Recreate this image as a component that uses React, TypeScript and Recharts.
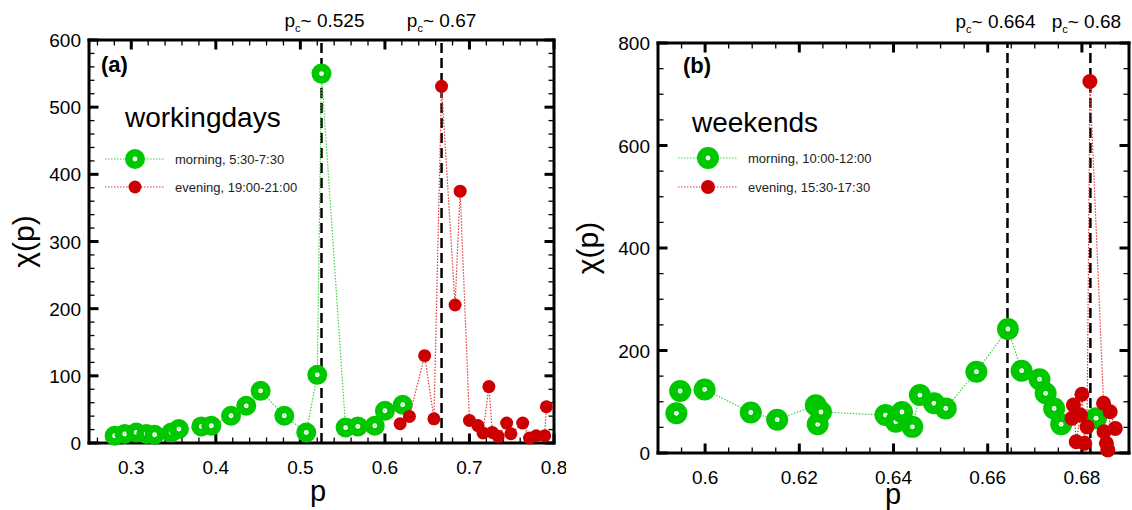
import React from 'react';
import { ScatterChart, Scatter, XAxis, YAxis, ReferenceLine, Legend } from 'recharts';

// ---------- data ----------
// (a) working days
const morningA_p = [0.2803, 0.2922, 0.3059, 0.3178, 0.3276, 0.3473, 0.3563, 0.3828, 0.3947, 0.418, 0.436, 0.453, 0.481, 0.507, 0.52, 0.525, 0.5535, 0.568, 0.588, 0.6, 0.621];
const morningA_chi = [10.8, 13.4, 15.7, 13.4, 12.3, 15.7, 20.8, 24.7, 25.7, 40.6, 55.4, 77.7, 40.6, 15.7, 101.5, 550, 23, 24.7, 25.7, 48, 57];
const eveningA_p = [0.618, 0.629, 0.647, 0.658, 0.667, 0.683, 0.689, 0.7, 0.71, 0.716, 0.723, 0.727, 0.734, 0.744, 0.749, 0.763, 0.771, 0.779, 0.789, 0.791];
const eveningA_chi = [28.7, 39.6, 130, 36, 531, 205.5, 375, 33.6, 26, 15, 84, 15.8, 10, 29.7, 13.8, 29.7, 7.4, 10.8, 10.8, 54];
// (b) weekends
const morningB_p = [0.5939, 0.5947, 0.5999, 0.6097, 0.6153, 0.6235, 0.6239, 0.6246, 0.6383, 0.6405, 0.6418, 0.644, 0.6456, 0.6486, 0.6511, 0.6576, 0.6643, 0.6672, 0.671, 0.6723, 0.6741, 0.6756, 0.683];
const morningB_chi = [77.5, 121, 124, 79, 65, 93, 56, 80, 74, 61, 80, 51, 113, 97, 87, 158.6, 242, 160.6, 144, 116.5, 87, 56, 68];
const eveningB_p = [0.6779, 0.6782, 0.6788, 0.6797, 0.68, 0.6806, 0.6811, 0.6817, 0.6846, 0.6847, 0.6852, 0.6855, 0.686, 0.6871];
const eveningB_chi = [67.7, 93.6, 22, 74, 114.5, 19, 51, 725, 97, 41.6, 19, 6, 80.6, 48];

// critical points
const pcA = [0.525, 0.667];
const pcA_labels = ['0.525', '0.67'];
const pcB = [0.6642, 0.6818];
const pcB_labels = ['0.664', '0.68'];

// axes
const xDomainA = [0.25, 0.8];
const yDomainA = [0, 600];
const xMajorA = [0.3, 0.4, 0.5, 0.6, 0.7, 0.8];
const yMajorA = [0, 100, 200, 300, 400, 500, 600];
const xDomainB = [0.59, 0.69];
const yDomainB = [0, 800];
const xMajorB = [0.6, 0.62, 0.64, 0.66, 0.68];
const yMajorB = [0, 200, 400, 600, 800];

const legendA = ['morning, 5:30-7:30', 'evening, 19:00-21:00'];
const legendB = ['morning, 10:00-12:00', 'evening, 15:30-17:30'];

// ---------- helpers ----------
const FONT = '"Liberation Sans", Arial, Helvetica, sans-serif';
const GREEN = '#00c800';
const RED = '#cc0000';
const GREEN_LINE = '#3fd43f';
const RED_LINE = '#e23a3a';

const zip = (ps: number[], cs: number[]) => ps.map((p, i) => ({ p, chi: cs[i] }));
const range = (start: number, end: number, step: number) => {
  const n = Math.round((end - start) / step);
  return Array.from({ length: n + 1 }, (_, i) => +(start + i * step).toFixed(6));
};

const morningA = zip(morningA_p, morningA_chi);
const eveningA = zip(eveningA_p, eveningA_chi);
const morningB = zip(morningB_p, morningB_chi);
const eveningB = zip(eveningB_p, eveningB_chi);

const bottomLabel = (props: any) => {
  const { x, y, payload } = props;
  return (
    <text x={x} y={Number(y) + 31} textAnchor="middle" fontSize={19} fontFamily={FONT} fill="#000">
      {String(payload.value)}
    </text>
  );
};
const leftLabel = (props: any) => {
  const { x, y, payload } = props;
  return (
    <text x={Number(x) - 8} y={Number(y) + 7} textAnchor="end" fontSize={19} fontFamily={FONT} fill="#000">
      {String(payload.value)}
    </text>
  );
};

const greenShape = (r: number) => (props: any) => {
  const { cx, cy } = props;
  if (cx == null || cy == null) return <g />;
  return (
    <g>
      <circle cx={cx} cy={cy} r={r} fill={GREEN} />
      <circle cx={cx} cy={cy} r={2.4} fill="#fff" />
      <circle cx={cx} cy={cy} r={0.7} fill="#9c9" />
    </g>
  );
};
const redShape = (r: number) => (props: any) => {
  const { cx, cy } = props;
  if (cx == null || cy == null) return <g />;
  return <circle cx={cx} cy={cy} r={r} fill={RED} />;
};

const pcLabel = (text: string, dx: number, baseY: number) => (props: any) => {
  const vb = props.viewBox || { x: 0 };
  return (
    <text x={vb.x + dx} y={baseY} textAnchor="middle" fontSize={19} fontFamily={FONT} fill="#000">
      <tspan>p</tspan>
      <tspan dy={5} fontSize={11}>c</tspan>
      <tspan dy={-5}>{'~ ' + text}</tspan>
    </text>
  );
};

const yTitle = (cx: number, cy: number) => () => (
  <text x={cx} y={cy} transform={`rotate(-90 ${cx} ${cy})`} textAnchor="middle" fontSize={30} fontFamily={FONT} fill="#000">
    χ(p)
  </text>
);
const xTitle = (cx: number, by: number) => () => (
  <text x={cx} y={by} textAnchor="middle" fontSize={29} fontFamily={FONT} fill="#000">
    p
  </text>
);

const LegendBox = (props: {
  tag: string; title: string; labels: string[];
  tagX: number; tagY: number; titleX: number; titleY: number;
  lx: number; ly1: number; ly2: number; gr: number; rr: number;
}) => {
  const { tag, title, labels, tagX, tagY, titleX, titleY, lx, ly1, ly2, gr, rr } = props;
  return (
    <svg width={566} height={210} style={{ display: 'block', overflow: 'visible' }} fontFamily={FONT}>
      <text x={tagX} y={tagY} fontSize={22} fontWeight="bold" fill="#000">{tag}</text>
      <text x={titleX} y={titleY} fontSize={28} fill="#000">{title}</text>
      <line x1={lx} x2={lx + 60} y1={ly1} y2={ly1} stroke={GREEN_LINE} strokeWidth={1.2} strokeDasharray="1.5 1.5" />
      <circle cx={lx + 30} cy={ly1} r={gr} fill={GREEN} />
      <circle cx={lx + 30} cy={ly1} r={2.4} fill="#fff" />
      <text x={lx + 70} y={ly1 + 5} fontSize={13} fill="#222">{labels[0]}</text>
      <line x1={lx} x2={lx + 60} y1={ly2} y2={ly2} stroke={RED_LINE} strokeWidth={1.2} strokeDasharray="1.5 1.5" />
      <circle cx={lx + 30} cy={ly2} r={rr} fill={RED} />
      <text x={lx + 70} y={ly2 + 5} fontSize={13} fill="#222">{labels[1]}</text>
    </svg>
  );
};

const MAJ = 9.5;
const MIN = 5.5;
const dotLine = (c: string) => ({ stroke: c, strokeWidth: 1.2, strokeDasharray: '1.5 1.5' });
const isMajor = (arr: number[], v: number) => arr.some((m) => Math.abs(m - v) < 1e-7);

// frame + inward ticks on all four sides, drawn as reference segments in data space
function frameAndTicks(xd: number[], yd: number[], xTicks: number[], yTicks: number[], xMajor: number[], yMajor: number[], plotW: number, plotH: number) {
  const kx = (xd[1] - xd[0]) / plotW;
  const ky = (yd[1] - yd[0]) / plotH;
  const els: any[] = [];
  const common = { xAxisId: 'b', yAxisId: 'l', ifOverflow: 'visible' as const, stroke: '#000' };
  xTicks.forEach((v, i) => {
    const maj = isMajor(xMajor, v);
    const L = maj ? MAJ : MIN;
    const sw = maj ? 3 : 1.3;
    els.push(<ReferenceLine key={`xb${i}`} {...common} strokeWidth={sw} segment={[{ x: v, y: yd[0] }, { x: v, y: yd[0] + L * ky }]} />);
    els.push(<ReferenceLine key={`xt${i}`} {...common} strokeWidth={sw} segment={[{ x: v, y: yd[1] }, { x: v, y: yd[1] - L * ky }]} />);
  });
  yTicks.forEach((v, i) => {
    const maj = isMajor(yMajor, v);
    const L = maj ? MAJ : MIN;
    const sw = maj ? 3 : 1.3;
    els.push(<ReferenceLine key={`yl${i}`} {...common} strokeWidth={sw} segment={[{ x: xd[0], y: v }, { x: xd[0] + L * kx, y: v }]} />);
    els.push(<ReferenceLine key={`yr${i}`} {...common} strokeWidth={sw} segment={[{ x: xd[1], y: v }, { x: xd[1] - L * kx, y: v }]} />);
  });
  const f = { ...common, strokeWidth: 3, strokeLinecap: 'square' as const };
  els.push(<ReferenceLine key="fb" {...f} segment={[{ x: xd[0], y: yd[0] }, { x: xd[1], y: yd[0] }]} />);
  els.push(<ReferenceLine key="ft" {...f} segment={[{ x: xd[0], y: yd[1] }, { x: xd[1], y: yd[1] }]} />);
  els.push(<ReferenceLine key="fl" {...f} segment={[{ x: xd[0], y: yd[0] }, { x: xd[0], y: yd[1] }]} />);
  els.push(<ReferenceLine key="fr" {...f} segment={[{ x: xd[1], y: yd[0] }, { x: xd[1], y: yd[1] }]} />);
  return els;
}

function axes(xDomain: number[], yDomain: number[], xMajor: number[], yMajor: number[], xT: any, yT: any, rightW: number) {
  return [
    <XAxis key="b" xAxisId="b" dataKey="p" type="number" domain={xDomain} ticks={xMajor} interval={0}
      height={40} axisLine={false} tickLine={false} tickSize={0} tickMargin={0}
      tick={bottomLabel} label={xT} />,
    <XAxis key="t" xAxisId="t" orientation="top" dataKey="p" type="number" domain={xDomain} ticks={xMajor}
      height={10} axisLine={false} tickLine={false} tick={false} />,
    <YAxis key="l" yAxisId="l" dataKey="chi" type="number" domain={yDomain} ticks={yMajor} interval={0}
      width={60} axisLine={false} tickLine={false} tickSize={0} tickMargin={0}
      tick={leftLabel} label={yT} />,
    <YAxis key="r" yAxisId="r" orientation="right" dataKey="chi" type="number" domain={yDomain} ticks={yMajor}
      width={rightW} axisLine={false} tickLine={false} tick={false} />,
  ];
}

function PanelA() {
  return (
    <ScatterChart width={566} height={510} margin={{ top: 30, right: 10, bottom: 27, left: 29 }}>
      {axes(xDomainA, yDomainA, xMajorA, yMajorA, xTitle(318, 501), yTitle(34, 241.5), 2)}
      <Legend layout="vertical" align="center" verticalAlign="middle"
        wrapperStyle={{ left: 0, top: 0, width: 566, height: 210, pointerEvents: 'none' }}
        content={() => (
          <LegendBox tag="(a)" title="workingdays" labels={legendA}
            tagX={101} tagY={72} titleX={125} titleY={127}
            lx={105} ly1={159} ly2={187} gr={10} rr={6.5} />
        )} />
      <ReferenceLine xAxisId="b" yAxisId="l" x={pcA[0]} stroke="#000" strokeWidth={2.5} strokeDasharray="10 5"
        label={pcLabel(pcA_labels[0], 3, 27)} />
      <ReferenceLine xAxisId="b" yAxisId="l" x={pcA[1]} stroke="#000" strokeWidth={2.5} strokeDasharray="10 5"
        label={pcLabel(pcA_labels[1], 0, 27)} />
      <Scatter name="morning" data={morningA} xAxisId="b" yAxisId="l" isAnimationActive={false}
        line={dotLine(GREEN_LINE)} lineType="joint" shape={greenShape(10)} />
      <Scatter name="evening" data={eveningA} xAxisId="b" yAxisId="l" isAnimationActive={false}
        line={dotLine(RED_LINE)} lineType="joint" shape={redShape(6.5)} />
      {frameAndTicks(xDomainA, yDomainA, range(0.26, 0.8, 0.02), range(0, 600, 20), xMajorA, yMajorA, 465, 403)}
    </ScatterChart>
  );
}

function PanelB() {
  return (
    <ScatterChart width={566} height={510} margin={{ top: 33, right: 1, bottom: 17, left: 32 }}>
      {axes(xDomainB, yDomainB, xMajorB, yMajorB, xTitle(327, 504), yTitle(32, 248), 2)}
      <Legend layout="vertical" align="center" verticalAlign="middle"
        wrapperStyle={{ left: 0, top: 0, width: 566, height: 210, pointerEvents: 'none' }}
        content={() => (
          <LegendBox tag="(b)" title="weekends" labels={legendB}
            tagX={117} tagY={73} titleX={126} titleY={132}
            lx={112} ly1={158} ly2={187} gr={11} rr={7} />
        )} />
      <ReferenceLine xAxisId="b" yAxisId="l" x={pcB[0]} stroke="#000" strokeWidth={2.5} strokeDasharray="10 5"
        label={pcLabel(pcB_labels[0], -12, 28)} />
      <ReferenceLine xAxisId="b" yAxisId="l" x={pcB[1]} stroke="#000" strokeWidth={2.5} strokeDasharray="10 5"
        label={pcLabel(pcB_labels[1], -4, 28)} />
      <Scatter name="morning" data={morningB} xAxisId="b" yAxisId="l" isAnimationActive={false}
        line={dotLine(GREEN_LINE)} lineType="joint" shape={greenShape(11)} />
      <Scatter name="evening" data={eveningB} xAxisId="b" yAxisId="l" isAnimationActive={false}
        line={dotLine(RED_LINE)} lineType="joint" shape={redShape(7.5)} />
      {frameAndTicks(xDomainB, yDomainB, range(0.59, 0.69, 0.005), range(0, 800, 50), xMajorB, yMajorB, 471, 410)}
    </ScatterChart>
  );
}

export default function App() {
  return (
    <div style={{ position: 'absolute', left: 0, top: 0, width: 1132, height: 510, display: 'flex', background: '#fff' }}>
      <PanelA />
      <PanelB />
    </div>
  );
}
